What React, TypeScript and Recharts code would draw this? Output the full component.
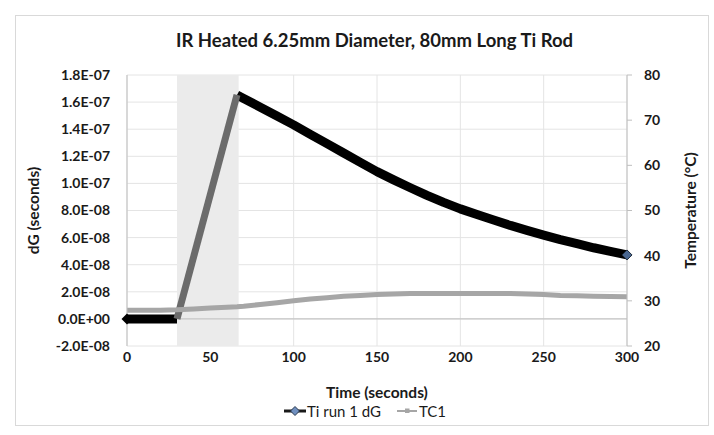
import React from 'react';
import {
  LineChart,
  Line,
  XAxis,
  YAxis,
  CartesianGrid,
  ReferenceArea,
  ReferenceLine,
  Legend,
} from 'recharts';

// Time (seconds)
const timeSec = [
  0, 10, 20, 30, 40, 50, 60, 66, 70, 80, 90, 100, 110, 120, 130, 140, 150, 160, 170, 180,
  190, 200, 210, 220, 230, 240, 250, 260, 270, 280, 290, 300,
];
// Ti run 1 dG (seconds), black parts of the curve
const dG: (number | null)[] = [
  0, 0, 0, 0, null, null, null, 1.653e-7, 1.627e-7, 1.562e-7, 1.497e-7, 1.432e-7, 1.362e-7,
  1.293e-7, 1.224e-7, 1.155e-7, 1.087e-7, 1.026e-7, 9.68e-8, 9.12e-8, 8.6e-8, 8.12e-8,
  7.7e-8, 7.3e-8, 6.9e-8, 6.53e-8, 6.18e-8, 5.85e-8, 5.55e-8, 5.25e-8, 4.98e-8, 4.72e-8,
];
// Ti run 1 dG, heating ramp (drawn in grey)
const dGRamp: (number | null)[] = [
  null, null, null, 0, null, null, null, 1.653e-7, null, null, null, null, null, null, null,
  null, null, null, null, null, null, null, null, null, null, null, null, null, null, null,
  null, null,
];
// TC1 temperature (°C)
const tc1 = [
  27.9, 27.9, 27.9, 28.0, 28.2, 28.4, 28.6, 28.7, 28.8, 29.2, 29.6, 30.0, 30.4, 30.7, 31.0,
  31.2, 31.4, 31.5, 31.6, 31.6, 31.6, 31.6, 31.6, 31.6, 31.6, 31.5, 31.4, 31.2, 31.1, 31.0,
  30.95, 30.9,
];

const xTicks = [0, 50, 100, 150, 200, 250, 300];
const dGTicks = [
  -2.0e-8, 0, 2.0e-8, 4.0e-8, 6.0e-8, 8.0e-8, 1.0e-7, 1.2e-7, 1.4e-7, 1.6e-7, 1.8e-7,
];
const tempTicks = [20, 30, 40, 50, 60, 70, 80];
const heatStart = 30;
const heatEnd = 67;

const title = 'IR Heated 6.25mm Diameter, 80mm Long Ti Rod';
const xLabel = 'Time (seconds)';
const leftLabel = 'dG (seconds)';
const rightLabel = 'Temperature (°C)';
const dGName = 'Ti run 1 dG';
const tcName = 'TC1';

const data = timeSec.map((t, i) => ({ t, dG: dG[i], ramp: dGRamp[i], tc1: tc1[i] }));

const FONT = 'Lato, "Noto Sans", sans-serif';

const fmtSci = (v: number) => {
  if (v === 0) return '0.0E+00';
  const e = Math.floor(Math.log10(Math.abs(v)) + 1e-9);
  const m = v / Math.pow(10, e);
  return `${m.toFixed(1)}E${e < 0 ? '-' : '+'}${String(Math.abs(e)).padStart(2, '0')}`;
};

const lastIdx = timeSec.length - 1;

const DGDot = (props: any) => {
  const { cx, cy, index } = props;
  if (cx == null || cy == null) return <g key={`d${index}`} />;
  if (index === lastIdx) {
    const r = 5;
    return (
      <path
        key={`d${index}`}
        d={`M${cx - r},${cy} L${cx},${cy - r} L${cx + r},${cy} L${cx},${cy + r} Z`}
        fill="#4a6790"
        stroke="#1d2b3c"
        strokeWidth={1}
      />
    );
  }
  if (index === 0) {
    const r = 5.5;
    return (
      <path
        key={`d${index}`}
        d={`M${cx - r},${cy} L${cx},${cy - r} L${cx + r},${cy} L${cx},${cy + r} Z`}
        fill="#000"
      />
    );
  }
  return <g key={`d${index}`} />;
};

const LegendContent = () => (
  <div
    style={{
      display: 'flex',
      justifyContent: 'center',
      alignItems: 'center',
      height: 22,
      paddingLeft: 16,
      fontFamily: FONT,
      fontSize: 15,
      color: '#1a1a1a',
    }}
  >
    <svg width={22} height={12} style={{ marginRight: 1 }}>
      <line x1={0} y1={6} x2={22} y2={6} stroke="#1a1a1a" strokeWidth={3} />
      <path d="M6.5,6 L11,1.5 L15.5,6 L11,10.5 Z" fill="#6f8fbf" stroke="#2a3a50" strokeWidth={1} />
    </svg>
    <span>{dGName}</span>
    <svg width={20} height={12} style={{ marginLeft: 16, marginRight: 2 }}>
      <line x1={0} y1={6} x2={20} y2={6} stroke="#a6a6a6" strokeWidth={2} />
      <rect x={8} y={3.5} width={4.5} height={4.5} fill="#a6a6a6" />
    </svg>
    <span>{tcName}</span>
  </div>
);

export default function App() {
  return (
    <div style={{ position: 'absolute', left: 0, top: 0, width: 714, height: 435, background: '#fff' }}>
      <div
        style={{
          position: 'absolute',
          left: 15,
          top: 15,
          width: 692,
          height: 409,
          border: '1px solid #d9d9d9',
        }}
      />
      <div
        style={{
          position: 'absolute',
          left: 0,
          top: 27,
          width: 749,
          textAlign: 'center',
          fontFamily: FONT,
          fontWeight: 700,
          fontSize: 18.5,
          color: '#1a1a1a',
          lineHeight: '26px',
        }}
      >
        {title}
      </div>
      <div style={{ position: 'absolute', left: 0, top: 0 }}>
        <LineChart
          width={714}
          height={435}
          data={data}
          margin={{ top: 75, right: 15, bottom: 13, left: 15 }}
          style={{ fontFamily: FONT }}
        >
          <ReferenceArea
            x1={heatStart}
            x2={heatEnd}
            yAxisId="left"
            fill="#ebebeb"
            fillOpacity={1}
            stroke="none"
            ifOverflow="hidden"
          />
          <CartesianGrid yAxisId="left" stroke="#e4e4e4" strokeWidth={1} />
          <XAxis
            dataKey="t"
            type="number"
            domain={[0, 300]}
            ticks={xTicks}
            axisLine={false}
            tickLine={false}
            tickSize={3}
            tickMargin={3}
            height={54}
            tick={{ fill: '#1a1a1a', fontSize: 14, fontWeight: 700 }}
            label={{
              value: xLabel,
              position: 'insideBottom',
              offset: 2,
              style: { fill: '#1a1a1a', fontSize: 15.5, fontWeight: 700 },
            }}
          />
          <YAxis
            yAxisId="left"
            domain={[-2e-8, 1.8e-7]}
            ticks={dGTicks}
            tickFormatter={fmtSci}
            width={112}
            axisLine={{ stroke: '#bfbfbf' }}
            tickLine={false}
            tickSize={0}
            tickMargin={17}
            tick={{ fill: '#1a1a1a', fontSize: 14, fontWeight: 700 }}
            label={{
              value: leftLabel,
              angle: -90,
              position: 'insideLeft',
              offset: 18,
              style: { textAnchor: 'middle', fill: '#1a1a1a', fontSize: 15.5, fontWeight: 700 },
            }}
          />
          <YAxis
            yAxisId="right"
            orientation="right"
            domain={[20, 80]}
            ticks={tempTicks}
            width={72}
            axisLine={{ stroke: '#bfbfbf' }}
            tickLine={{ stroke: '#bfbfbf' }}
            tickSize={5}
            tickMargin={12}
            tick={{ fill: '#1a1a1a', fontSize: 14, fontWeight: 700 }}
            label={{
              value: rightLabel,
              angle: -90,
              position: 'insideRight',
              offset: 9,
              style: { textAnchor: 'middle', fill: '#1a1a1a', fontSize: 15.5, fontWeight: 700 },
            }}
          />
          <ReferenceLine yAxisId="left" y={0} stroke="#bdbdbd" strokeWidth={1} />
          <Legend verticalAlign="bottom" content={<LegendContent />} />
          <Line
            yAxisId="left"
            dataKey="dG"
            name={dGName}
            stroke="#000"
            strokeWidth={9}
            strokeLinejoin="round"
            dot={DGDot}
            activeDot={false}
            isAnimationActive={false}
          />
          <Line
            yAxisId="left"
            dataKey="ramp"
            stroke="#6b6b6b"
            strokeWidth={7}
            connectNulls
            dot={false}
            activeDot={false}
            legendType="none"
            isAnimationActive={false}
          />
          <Line
            yAxisId="right"
            dataKey="tc1"
            name={tcName}
            stroke="#a6a6a6"
            strokeWidth={5}
            dot={false}
            activeDot={false}
            isAnimationActive={false}
          />
        </LineChart>
      </div>
    </div>
  );
}
